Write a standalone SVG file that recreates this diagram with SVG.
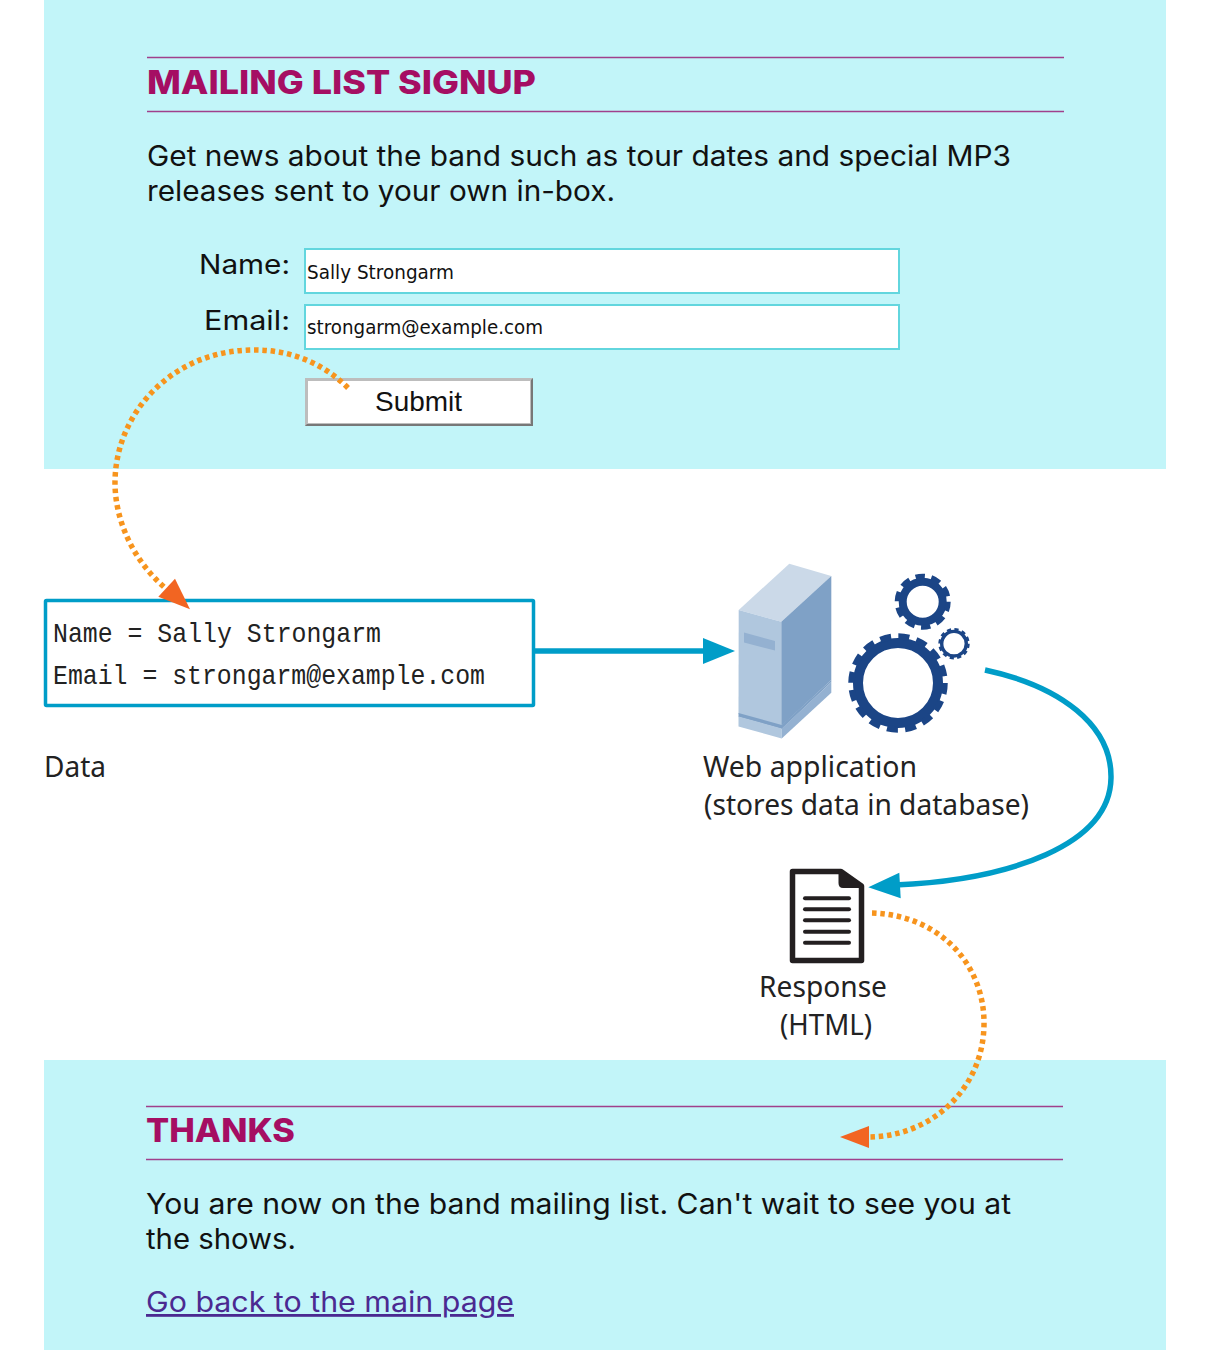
<svg xmlns="http://www.w3.org/2000/svg" width="1216" height="1350" viewBox="0 0 1216 1350">
<style>
.panel{fill:#c2f5f9}
.rule{stroke:#a0408c;stroke-width:1.400}
.head{font-family:Inter,"Open Sans",sans-serif;font-weight:800;font-size:32.500px;fill:#a50e63}
.body{font-family:Inter,"Open Sans",sans-serif;font-size:28px;fill:#111}
.lab{font-family:Inter,"Open Sans",sans-serif;font-size:26.500px;fill:#111}
.field{fill:#fff;stroke:#62d6de;stroke-width:2}
.val{font-family:"DejaVu Sans","Open Sans",sans-serif;font-size:19.500px;fill:#111}
.mono{font-family:"Liberation Mono","DejaVu Sans Mono",monospace;font-size:27.500px;fill:#222}
.cap{font-family:"Noto Sans","Open Sans",sans-serif;font-size:29px;fill:#222}
.blue{fill:none;stroke:#009dc8;stroke-width:5.500}
.dot{fill:none;stroke:#f7941d;stroke-width:5.500;stroke-dasharray:4.500 3.800}
.gear{fill:none;stroke:#1b4586}
.dl{stroke:#231f20;stroke-width:4;stroke-linecap:round}
</style>
<g id="signup-panel">
<rect class="panel" x="44" y="0" width="1122" height="469"/>
<line class="rule" x1="147" y1="57.500" x2="1064" y2="57.500"/>
<line class="rule" x1="147" y1="111.500" x2="1064" y2="111.500"/>
<text class="head" x="147" y="93.500" textLength="389" lengthAdjust="spacingAndGlyphs">MAILING LIST SIGNUP</text>
<text class="body" x="147" y="166" textLength="864" lengthAdjust="spacingAndGlyphs">Get news about the band such as tour dates and special MP3</text>
<text class="body" x="147" y="201" textLength="468" lengthAdjust="spacingAndGlyphs">releases sent to your own in-box.</text>
</g>
<g id="name-field">
<text class="lab" x="199" y="273.500" textLength="91" lengthAdjust="spacingAndGlyphs">Name:</text>
<rect class="field" x="305" y="249" width="594" height="44"/>
<text class="val" x="307" y="279" textLength="147" lengthAdjust="spacingAndGlyphs">Sally Strongarm</text>
</g>
<g id="email-field">
<text class="lab" x="204" y="330" textLength="86" lengthAdjust="spacingAndGlyphs">Email:</text>
<rect class="field" x="305" y="305" width="594" height="44"/>
<text class="val" x="307" y="334" textLength="236" lengthAdjust="spacingAndGlyphs">strongarm@example.com</text>
</g>
<g id="submit-button">
<rect x="305" y="378" width="228" height="48" fill="#bdbdbd"/>
<path d="M533 378V426H305L307 424H531V380Z" fill="#777"/>
<rect x="308" y="381" width="222" height="42" fill="#fff"/>
<text x="418.500" y="411" text-anchor="middle" font-family="Liberation Sans,Arial,sans-serif" font-size="28" fill="#111" textLength="87" lengthAdjust="spacingAndGlyphs">Submit</text>
</g>
<g id="data-box">
<rect x="45.500" y="600.500" width="488" height="105" fill="#fff" stroke="#009dc8" stroke-width="3.500" rx="1"/>
<text class="mono" x="53" y="641.500" textLength="328" lengthAdjust="spacingAndGlyphs">Name = Sally Strongarm</text>
<text class="mono" x="53" y="683.500" textLength="432" lengthAdjust="spacingAndGlyphs">Email = strongarm@example.com</text>
<text class="cap" x="44" y="777" textLength="62" lengthAdjust="spacingAndGlyphs">Data</text>
</g>
<g id="web-application">
<path d="M738.700 610L789.300 563.700L831.300 576L781.300 621.700Z" fill="#cbd9e8"/>
<path d="M738.700 610L781.300 621.700V726L738.500 714Z" fill="#b0c7de"/>
<path d="M781.300 621.700L831.300 576V680L781.300 726Z" fill="#7fa1c6"/>
<path d="M744 632.500L775 641V650.500L744 642.500Z" fill="#94b1d1"/>
<path d="M738.500 713L781.700 725L831.300 680V682L781.700 729L738.500 717Z" fill="#7fa1c6"/>
<path d="M738.500 716.500L781.700 728.500V738.500L738.500 726.500Z" fill="#b0c7de"/>
<path d="M781.700 728.500L831.300 682V692.700L781.700 738.500Z" fill="#94b1d1"/>
<circle class="gear" cx="898" cy="683" r="40" stroke-width="10"/>
<circle class="gear" cx="898" cy="683" r="46.500" stroke-width="6.500" stroke-dasharray="11 7.260"/>
<circle class="gear" cx="922.700" cy="601.700" r="20" stroke-width="8"/>
<circle class="gear" cx="922.700" cy="601.700" r="25.500" stroke-width="5" stroke-dasharray="9.500 6.520"/>
<circle class="gear" cx="954" cy="643.700" r="12.300" stroke-width="3.400"/>
<circle class="gear" cx="954" cy="643.700" r="14.500" stroke-width="2.400" stroke-dasharray="4.200 3.390"/>
<text class="cap" x="703" y="777" textLength="214" lengthAdjust="spacingAndGlyphs">Web application</text>
<text class="cap" x="704" y="815" textLength="325" lengthAdjust="spacingAndGlyphs">(stores data in database)</text>
</g>
<g id="response">
<path d="M792.500 871.500H841L861.500 886V960.500H792.500Z" fill="#fff" stroke="#231f20" stroke-width="5.500" stroke-linejoin="round"/>
<path d="M838.500 870L863 885.500V888H843Q838.500 888 838.500 883Z" fill="#231f20"/>
<line class="dl" x1="805" y1="898.300" x2="849" y2="898.300"/>
<line class="dl" x1="805" y1="909.300" x2="849" y2="909.300"/>
<line class="dl" x1="805" y1="920.300" x2="849" y2="920.300"/>
<line class="dl" x1="805" y1="931.700" x2="849" y2="931.700"/>
<line class="dl" x1="805" y1="942.700" x2="849" y2="942.700"/>
<text class="cap" x="759" y="996.500" textLength="128" lengthAdjust="spacingAndGlyphs">Response</text>
<text class="cap" x="780" y="1034.500" textLength="92" lengthAdjust="spacingAndGlyphs">(HTML)</text>
</g>
<g id="thanks-panel">
<rect class="panel" x="44" y="1060" width="1122" height="290"/>
<line class="rule" x1="146" y1="1106.500" x2="1063" y2="1106.500"/>
<line class="rule" x1="146" y1="1159.500" x2="1063" y2="1159.500"/>
<text class="head" x="146" y="1142" textLength="149" lengthAdjust="spacingAndGlyphs">THANKS</text>
<text class="body" x="146" y="1214" textLength="865" lengthAdjust="spacingAndGlyphs">You are now on the band mailing list. Can't wait to see you at</text>
<text class="body" x="146" y="1249" textLength="150" lengthAdjust="spacingAndGlyphs">the shows.</text>
<text class="body" x="146" y="1312" textLength="368" lengthAdjust="spacingAndGlyphs" style="fill:#4b2a91" text-decoration="underline">Go back to the main page</text>
</g>
<g id="connectors">
<path class="blue" d="M535 651H706"/>
<path d="M735 651L703 638V664Z" fill="#009dc8"/>
<path class="blue" d="M985 670C1060 686 1112 725 1111 778C1110 845 1010 880 895 885"/>
<path d="M868.300 887.300L899.300 872.700L900.700 898.300Z" fill="#009dc8"/>
<path class="dot" d="M348 388C320 360 285 349 250 350C170 352 114 415 115 485C116 525 136 565 170 592"/>
<path d="M190 609.300L175 578.700L158.300 596.700Z" fill="#f26522"/>
<path class="dot" d="M872 913C940 915 985 965 984 1025C983 1090 930 1137 868 1137"/>
<path d="M840 1137L869 1126V1148Z" fill="#f26522"/>
</g>
</svg>
